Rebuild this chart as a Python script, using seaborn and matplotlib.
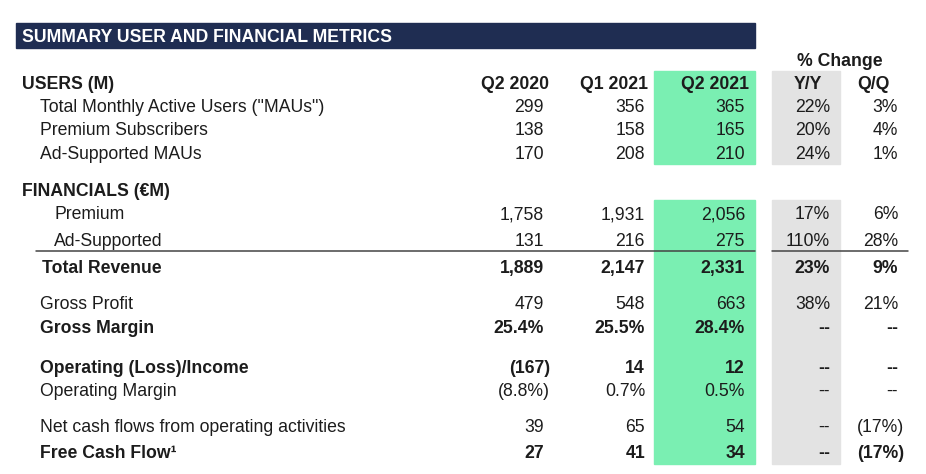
import seaborn as sns
import matplotlib.pyplot as plt
from matplotlib.patches import Rectangle

title = "SUMMARY USER AND FINANCIAL METRICS"
columns = ["Q2 2020", "Q1 2021", "Q2 2021", "Y/Y", "Q/Q"]
sections = ["USERS (M)", "FINANCIALS (€M)"]

labels = ['Total Monthly Active Users ("MAUs")', "Premium Subscribers", "Ad-Supported MAUs",
          "Premium", "Ad-Supported", "Total Revenue", "Gross Profit", "Gross Margin",
          "Operating (Loss)/Income", "Operating Margin",
          "Net cash flows from operating activities", "Free Cash Flow¹"]
q2_2020 = ["299", "138", "170", "1,758", "131", "1,889", "479", "25.4%", "(167)", "(8.8%)", "39", "27"]
q1_2021 = ["356", "158", "208", "1,931", "216", "2,147", "548", "25.5%", "14", "0.7%", "65", "41"]
q2_2021 = ["365", "165", "210", "2,056", "275", "2,331", "663", "28.4%", "12", "0.5%", "54", "34"]
yoy = ["22%", "20%", "24%", "17%", "110%", "23%", "38%", "--", "--", "--", "--", "--"]
qoq = ["3%", "4%", "1%", "6%", "28%", "9%", "21%", "--", "--", "--", "(17%)", "(17%)"]

bold_rows = {"Total Revenue", "Gross Margin", "Operating (Loss)/Income", "Free Cash Flow¹"}

# layout (pixel space, y down)
row_y = [106, 129, 153, 213, 240, 267, 303, 327, 367, 390, 426, 452]
indent = [40, 40, 40, 54, 54, 42, 40, 40, 40, 40, 40, 40]
col_right = [544, 645, 745, 830, 898]
head_right = [549, 648, 749]
FS = 12.7
TXT = "#1c1c1c"

sns.set_theme(style="white")
plt.rcParams["font.family"] = ["Liberation Sans", "DejaVu Sans"]

fig = plt.figure(figsize=(9.26, 4.74), dpi=100)
ax = fig.add_axes([0, 0, 1, 1])
ax.set_xlim(0, 926)
ax.set_ylim(474, 0)
ax.axis("off")

def base(y):
    return y + 6

# title bar
ax.add_patch(Rectangle((16, 23), 739, 25, color="#1f2d52", zorder=1))
ax.text(22, base(36), title, color="white", fontsize=FS, fontweight="bold", va="baseline")

# highlight bands
for y0, y1 in [(71, 164), (200, 464)]:
    ax.add_patch(Rectangle((654, y0), 101, y1 - y0, color="#7aefb2", zorder=0))
    ax.add_patch(Rectangle((772, y0), 68, y1 - y0, color="#e3e3e3", zorder=0))

# headers
ax.text(840, base(60), "% Change", color=TXT, fontsize=FS, fontweight="bold", ha="center", va="baseline")
ax.text(22, base(83), sections[0], color=TXT, fontsize=FS, fontweight="bold", va="baseline")
for x, c in zip(head_right, columns[:3]):
    ax.text(x, base(83), c, color=TXT, fontsize=FS, fontweight="bold", ha="right", va="baseline")
ax.text(808, base(83), columns[3], color=TXT, fontsize=FS, fontweight="bold", ha="center", va="baseline")
ax.text(890, base(83), columns[4], color=TXT, fontsize=FS, fontweight="bold", ha="right", va="baseline")
ax.text(22, base(190), sections[1], color=TXT, fontsize=FS, fontweight="bold", va="baseline")

# rows
cols = [q2_2020, q1_2021, q2_2021, yoy, qoq]
for i, lab in enumerate(labels):
    w = "bold" if lab in bold_rows else "normal"
    y = base(row_y[i])
    ax.text(indent[i], y, lab, color=TXT, fontsize=FS, fontweight=w, va="baseline")
    for x, col in zip(col_right, cols):
        s = col[i]
        xx = x + 6 if s.endswith(")") else x
        ax.text(xx, y, s, color=TXT, fontsize=FS, fontweight=w, ha="right", va="baseline")

# total line
ax.plot([36, 755], [251, 251], color="#444444", lw=1.1)
ax.plot([772, 908], [251, 251], color="#444444", lw=1.1)

fig.savefig("out.png", dpi=100)
